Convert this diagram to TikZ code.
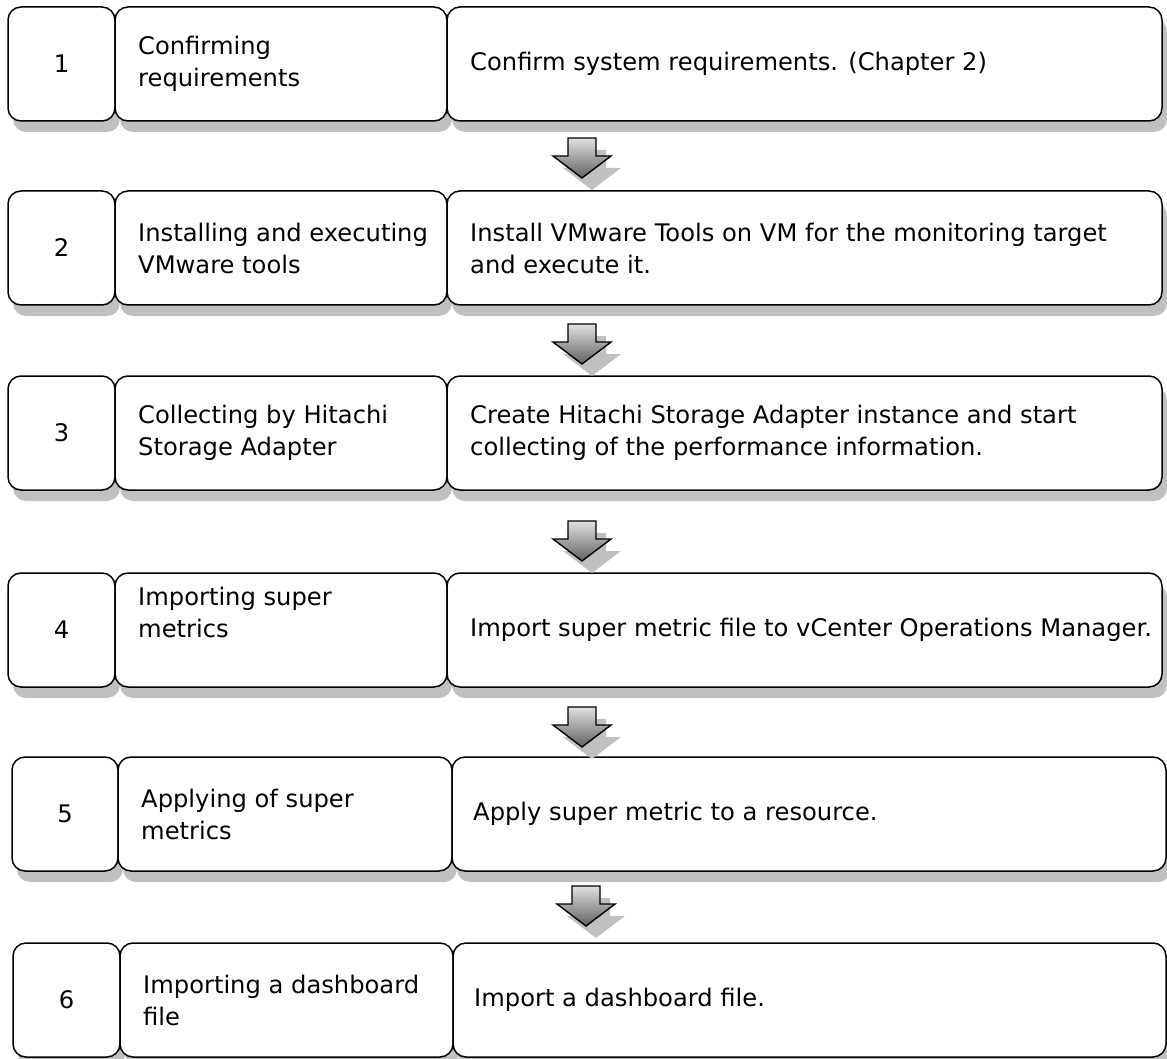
\documentclass[tikz,border=0pt]{standalone}
\usepackage{fontspec}
\setmainfont{DejaVu Sans}
\usetikzlibrary{backgrounds}
\definecolor{shadowgray}{HTML}{C0C0C0}
\tikzset{
  box/.style={draw=black, line width=1.5pt, fill=white, rounded corners=13pt,
    minimum height=114pt, inner sep=0pt, outer sep=0pt, anchor=north west},
  txt/.style={anchor=west, align=left, inner sep=0pt},
  arrowstyle/.style={draw=black, line width=1.4pt, line join=miter, top color=black!12, bottom color=black!62},
  every node/.style={font=\fontsize{24.2pt}{32pt}\selectfont}
}
\newcommand\shadowof[1]{\fill[shadowgray, rounded corners=13pt]
  ([xshift=5pt,yshift=-11pt]#1.south west) rectangle ([xshift=5pt,yshift=-11pt]#1.north east);}
\newcommand\flowarr[1]{%
  \fill[shadowgray, shift={(#1)}, xshift=10pt, yshift=-12pt]
    (-14,0) -- (14,0) -- (14,18) -- (29,18) -- (0,40) -- (-29,18) -- (-14,18) -- cycle;
  \draw[arrowstyle, shift={(#1)}]
    (-14,0) -- (14,0) -- (14,18) -- (29,18) -- (0,40) -- (-29,18) -- (-14,18) -- cycle;}
\begin{document}
\begin{tikzpicture}[x=1pt,y=-1pt]
\useasboundingbox (0,0) rectangle (1167,1059);
% row 1
\node[box, minimum width=107pt] (n1) at (8,7) {1};
\node[box, minimum width=332pt] (m1) at (115,7) {};
\node[box, minimum width=715pt] (r1) at (447,7) {};
\node[txt] (tm1) at ([xshift=23pt]m1.west) {Confirming\\requirements};
\node[txt] (tr1) at ([xshift=23pt]r1.west) {Confirm system requirements. (Chapter 2)};
% row 2
\node[box, minimum width=107pt] (n2) at (8,191) {2};
\node[box, minimum width=332pt] (m2) at (115,191) {};
\node[box, minimum width=715pt] (r2) at (447,191) {};
\node[txt] (tm2) at ([xshift=23pt]m2.west) {Installing and executing\\VMware tools};
\node[txt] (tr2) at ([xshift=23pt]r2.west) {Install VMware Tools on VM for the monitoring target\\and execute it.};
% row 3
\node[box, minimum width=107pt] (n3) at (8,376) {3};
\node[box, minimum width=332pt] (m3) at (115,376) {};
\node[box, minimum width=715pt] (r3) at (447,376) {};
\node[txt] (tm3) at ([xshift=23pt]m3.west) {Collecting by Hitachi\\Storage Adapter};
\node[txt] (tr3) at ([xshift=23pt]r3.west) {Create Hitachi Storage Adapter instance and start\\collecting of the performance information.};
% row 4
\node[box, minimum width=107pt] (n4) at (8,573) {4};
\node[box, minimum width=332pt] (m4) at (115,573) {};
\node[box, minimum width=715pt] (r4) at (447,573) {};
\node[txt] (tm4) at ([xshift=23pt,yshift=18pt]m4.west) {Importing super\\metrics};
\node[txt] (tr4) at ([xshift=23pt]r4.west) {Import super metric file to vCenter Operations Manager.};
% row 5
\node[box, minimum width=106pt] (n5) at (12,757) {5};
\node[box, minimum width=334pt] (m5) at (118,757) {};
\node[box, minimum width=714pt] (r5) at (452,757) {};
\node[txt] (tm5) at ([xshift=23pt]m5.west) {Applying of super\\metrics};
\node[txt] (tr5) at ([xshift=21pt]r5.west) {Apply super metric to a resource.};
% row 6
\node[box, minimum width=107pt] (n6) at (13,943) {6};
\node[box, minimum width=333pt] (m6) at (120,943) {};
\node[box, minimum width=713pt] (r6) at (453,943) {};
\node[txt] (tm6) at ([xshift=23pt]m6.west) {Importing a dashboard\\file};
\node[txt] (tr6) at ([xshift=21pt]r6.west) {Import a dashboard file.};
% shadows
\begin{scope}[on background layer]
\foreach \r in {1,...,6}{\shadowof{n\r}\shadowof{m\r}\shadowof{r\r}}
\end{scope}
% arrows
\coordinate (a1) at (582,138);
\coordinate (a2) at (582,324);
\coordinate (a3) at (582,521);
\coordinate (a4) at (582,707);
\coordinate (a5) at (586,886);
\flowarr{a1}\flowarr{a2}\flowarr{a3}\flowarr{a4}\flowarr{a5}
\end{tikzpicture}
\end{document}
